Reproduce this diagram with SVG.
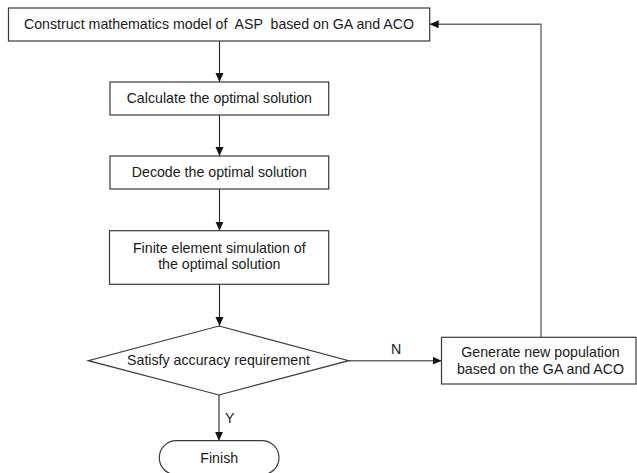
<svg xmlns="http://www.w3.org/2000/svg" width="637" height="473" viewBox="0 0 637 473">
<style>
.box{fill:#fff;stroke:#3a3a3a;stroke-width:1.2}
.t{font-family:"Liberation Sans",Arial,sans-serif;font-size:14.2px;fill:#1a1a1a;text-anchor:middle}
.c{fill:none;stroke:#222;stroke-width:1.1}
.cg{fill:none;stroke:#6a6a6a;stroke-width:1.4}
</style>
<defs>
<marker id="ah" markerUnits="userSpaceOnUse" markerWidth="10" markerHeight="10" refX="9" refY="4" orient="auto">
<path d="M0,0 L9,4 L0,8 z" fill="#111"/>
</marker>
</defs>
<rect width="637" height="473" fill="#fff"/>
<g id="connectors">
<line class="c" x1="219.5" y1="41" x2="219.5" y2="82" marker-end="url(#ah)"/>
<line class="c" x1="219.5" y1="115" x2="219.5" y2="156" marker-end="url(#ah)"/>
<line class="c" x1="219.5" y1="189" x2="219.5" y2="230.7" marker-end="url(#ah)"/>
<line class="c" x1="219.5" y1="284.3" x2="219.5" y2="326" marker-end="url(#ah)"/>
<line class="c" x1="219" y1="395" x2="219" y2="440.7" marker-end="url(#ah)"/>
<line class="cg" x1="348.7" y1="360.7" x2="441.5" y2="360.7" marker-end="url(#ah)"/>
<polyline class="cg" points="541,337.3 541,24.3 429.7,24.3" marker-end="url(#ah)"/>
<text class="t" x="396" y="354">N</text>
<text class="t" x="225" y="422.7" style="text-anchor:start">Y</text>
</g>
<g id="construct">
<rect class="box" x="8.5" y="8" width="421.2" height="33"/>
<text class="t" x="219" y="29.4" xml:space="preserve">Construct mathematics model of  ASP  based on GA and ACO</text>
</g>
<g id="calculate">
<rect class="box" x="110" y="82" width="218.7" height="33"/>
<text class="t" x="219.3" y="103">Calculate the optimal solution</text>
</g>
<g id="decode">
<rect class="box" x="110" y="156" width="218.7" height="33"/>
<text class="t" x="219.3" y="177.3">Decode the optimal solution</text>
</g>
<g id="finite">
<rect class="box" x="109.5" y="230.7" width="219.2" height="53.6"/>
<text class="t" x="219.3" y="252.7">Finite element simulation of</text>
<text class="t" x="219.3" y="269.3">the optimal solution</text>
</g>
<g id="satisfy">
<polygon class="box" points="219,326 348.7,360.7 219,395 88.3,360.7"/>
<text class="t" x="218.5" y="364.8">Satisfy accuracy requirement</text>
</g>
<g id="generate">
<rect class="box" x="441.5" y="337.3" width="194.5" height="46.7"/>
<text class="t" x="540.5" y="357.4">Generate new population</text>
<text class="t" x="540.5" y="374.2">based on the GA and ACO</text>
</g>
<g id="finish">
<rect class="box" x="159.3" y="440.7" width="119.7" height="34" rx="17" ry="17"/>
<text class="t" x="219.2" y="462.7">Finish</text>
</g>
</svg>
